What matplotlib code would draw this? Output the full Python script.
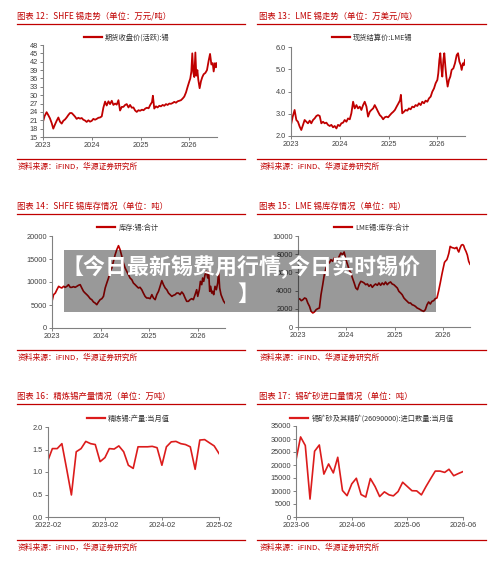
import pandas as pd
import matplotlib
matplotlib.use('Agg')
import matplotlib.pyplot as plt
from matplotlib.lines import Line2D
from matplotlib.patches import Rectangle

plt.rcParams['font.family'] = ['Noto Sans CJK SC', 'DejaVu Sans']

W, H = 500, 563
RED = '#c00000'
RED2 = '#dc1c1c'
GREY = '#808080'

### DATA
# daily prices (sampled), shared dates for SHFE and LME
price_dates = [
    '2023-01-01', '2023-01-13', '2023-01-28', '2023-02-10', '2023-02-22', '2023-03-07', '2023-03-19',
    '2023-04-01', '2023-04-13', '2023-04-26', '2023-05-08', '2023-05-21', '2023-06-02', '2023-06-15',
    '2023-06-27', '2023-07-10', '2023-07-22', '2023-08-04', '2023-08-16', '2023-08-29', '2023-09-10',
    '2023-09-23', '2023-10-05', '2023-10-18', '2023-10-30', '2023-11-12', '2023-11-24', '2023-12-07',
    '2023-12-19',
    '2024-01-01', '2024-01-13', '2024-01-26', '2024-02-07', '2024-02-20', '2024-03-03', '2024-03-16',
    '2024-03-28', '2024-04-10', '2024-04-22', '2024-05-05', '2024-05-17', '2024-05-30', '2024-06-11',
    '2024-06-24', '2024-07-06', '2024-07-19', '2024-07-31', '2024-08-13', '2024-08-25', '2024-09-07',
    '2024-09-19', '2024-10-02', '2024-10-14', '2024-10-27', '2024-11-08', '2024-11-21', '2024-12-03',
    '2024-12-16', '2024-12-28',
    '2025-01-11', '2025-01-23', '2025-02-05', '2025-02-17', '2025-03-02', '2025-03-14', '2025-03-27',
    '2025-04-03', '2025-04-13', '2025-04-26', '2025-05-08', '2025-05-21', '2025-06-02', '2025-06-15',
    '2025-06-27', '2025-07-10', '2025-07-22', '2025-08-04', '2025-08-16', '2025-08-29', '2025-09-10',
    '2025-09-23', '2025-10-05', '2025-10-18', '2025-10-30', '2025-11-12', '2025-11-24', '2025-12-07',
    '2025-12-19',
    '2026-01-01', '2026-01-08', '2026-01-16', '2026-01-23', '2026-01-31', '2026-02-07', '2026-02-15',
    '2026-02-22', '2026-03-02', '2026-03-09', '2026-03-19', '2026-03-29', '2026-04-08', '2026-04-18',
    '2026-05-01', '2026-05-13', '2026-05-26', '2026-06-05', '2026-06-15', '2026-06-25', '2026-07-02',
    '2026-07-12', '2026-07-20', '2026-07-27']

shfe_price = [
    20.5, 22.5, 23.9, 22.8, 21.7, 20.0, 18.0, 19.5, 20.8, 22.0, 20.5, 19.8, 20.8, 21.3, 22.0, 22.9,
    23.6, 23.6, 23.0, 22.3, 21.5, 21.9, 21.6, 21.8, 21.2, 20.9, 20.4, 21.0, 20.5,
    20.8, 21.5, 21.2, 21.5, 21.9, 22.0, 22.4, 25.5, 27.7, 26.3, 27.8, 26.8, 28.0, 26.5, 27.0, 26.6,
    28.2, 24.5, 25.8, 25.8, 26.5, 26.8, 25.6, 26.5, 25.5, 25.6, 24.5, 24.0, 24.6, 24.4,
    24.8, 24.6, 25.2, 25.5, 25.3, 26.5, 27.5, 29.8, 25.2, 26.0, 25.6, 26.2, 26.0, 26.5, 26.2, 26.8,
    26.5, 27.0, 26.9, 27.2, 27.6, 27.3, 27.8, 28.0, 28.2, 28.8, 29.5, 31.0, 33.0,
    35.0, 36.0, 38.5, 45.0, 38.0, 36.5, 45.3, 37.0, 39.0, 35.5, 32.5, 35.0, 36.5, 37.5, 38.0, 39.0,
    42.5, 44.8, 41.0, 41.5, 38.5, 41.5, 40.0, 41.5]

lme_price = [
    2.50, 2.85, 3.17, 2.72, 2.64, 2.42, 2.27, 2.50, 2.72, 2.64, 2.57, 2.69, 2.57, 2.72, 2.79, 2.90,
    2.94, 2.90, 2.57, 2.64, 2.57, 2.60, 2.50, 2.45, 2.50, 2.39, 2.45, 2.34, 2.50,
    2.45, 2.57, 2.60, 2.72, 2.64, 2.79, 2.75, 3.02, 3.54, 3.24, 3.39, 3.24, 3.32, 3.17, 3.39, 3.54,
    3.32, 2.87, 3.09, 3.17, 3.24, 3.39, 3.24, 3.09, 2.94, 2.87, 2.75, 2.84, 2.87, 2.84,
    2.94, 3.02, 3.09, 3.17, 3.32, 3.45, 3.60, 3.85, 3.02, 3.09, 3.17, 3.14, 3.24, 3.20, 3.32, 3.29,
    3.39, 3.35, 3.47, 3.39, 3.54, 3.47, 3.59, 3.54, 3.69, 3.77, 3.99, 4.14, 4.37,
    4.52, 4.82, 5.42, 5.72, 5.04, 4.67, 5.42, 5.72, 5.12, 4.67, 4.22, 4.52, 4.67, 4.97, 5.04, 5.27,
    5.64, 5.72, 5.34, 5.19, 4.97, 5.27, 5.19, 5.42]

# inventories (sampled), shared dates for SHFE and LME
stock_dates = [
    '2023-01-01', '2023-01-13', '2023-01-26', '2023-02-07', '2023-02-20', '2023-03-04', '2023-03-16',
    '2023-03-29', '2023-04-10', '2023-04-23', '2023-05-05', '2023-05-18', '2023-05-30', '2023-06-12',
    '2023-06-24', '2023-07-07', '2023-07-19', '2023-08-01', '2023-08-13', '2023-08-26', '2023-09-07',
    '2023-09-20', '2023-10-02', '2023-10-15', '2023-10-27', '2023-11-09', '2023-11-21', '2023-12-04',
    '2023-12-16', '2023-12-29',
    '2024-01-11', '2024-01-23', '2024-02-05', '2024-02-17', '2024-03-01', '2024-03-13', '2024-03-26',
    '2024-04-07', '2024-04-20', '2024-05-02', '2024-05-15', '2024-05-27', '2024-06-09', '2024-06-21',
    '2024-07-04', '2024-07-16', '2024-07-29', '2024-08-10', '2024-08-23', '2024-09-04', '2024-09-17',
    '2024-09-29', '2024-10-12', '2024-10-24', '2024-11-06', '2024-11-18', '2024-12-01', '2024-12-13',
    '2024-12-26',
    '2025-01-08', '2025-01-21', '2025-02-02', '2025-02-15', '2025-02-27', '2025-03-12', '2025-03-24',
    '2025-04-06', '2025-04-18', '2025-05-01', '2025-05-13', '2025-05-26', '2025-06-07', '2025-06-20',
    '2025-07-02', '2025-07-15', '2025-07-27', '2025-08-09', '2025-08-21', '2025-09-03', '2025-09-15',
    '2025-09-28', '2025-10-10', '2025-10-23', '2025-11-04', '2025-11-17', '2025-11-29', '2025-12-12',
    '2025-12-24',
    '2026-01-01', '2026-01-13', '2026-01-21', '2026-01-31', '2026-02-07', '2026-02-15', '2026-02-25',
    '2026-03-07', '2026-03-17', '2026-03-24', '2026-04-01', '2026-04-08', '2026-04-16', '2026-04-23',
    '2026-05-01', '2026-05-11', '2026-05-21', '2026-05-31', '2026-06-07', '2026-06-15', '2026-06-25',
    '2026-07-05', '2026-07-15', '2026-07-25']

shfe_stock = [
    5800, 7250, 7600, 8330, 9060, 8840, 8700, 9060, 8840, 9060, 9420, 8840, 8840, 8990, 8840, 9060,
    9280, 9420, 8700, 7970, 7600, 7250, 6880, 6380, 6160, 5650, 5430, 5070, 5650, 6160,
    6380, 6880, 8700, 9780, 10870, 12320, 13040, 14490, 15940, 17030, 17900, 17030, 15580, 14130,
    13040, 12320, 11590, 10870, 10510, 9780, 9420, 9060, 8700, 8840, 8330, 7600, 6880, 6520, 6520,
    6380, 7250, 6520, 6160, 7250, 7970, 9060, 10290, 9420, 8700, 8330, 7600, 7250, 6880, 7100, 7250,
    7600, 7600, 7250, 7830, 7390, 6520, 5800, 5800, 6160, 6380, 6160, 7250, 8330,
    6880, 8330, 10140, 9420, 10870, 10140, 11590, 12320, 10870, 12320, 7970, 9060, 7600, 7970, 7250,
    9060, 8330, 9780, 12320, 8700, 7250, 6520, 5800, 5430]

lme_stock = [
    3000, 3110, 2890, 3000, 3190, 3110, 2640, 2270, 1720, 1540, 1650, 1900, 2010, 2090, 3550, 4650,
    5750, 6480, 7220, 7030, 7400, 7220, 7580, 7580, 7400, 7770, 8130, 7950, 8240, 7400,
    6850, 6300, 5930, 5380, 4840, 4290, 4100, 4650, 5020, 4950, 4840, 4650, 4730, 4470, 4650, 4360,
    4580, 4730, 4580, 4840, 4580, 4840, 4650, 4950, 4650, 4840, 4950, 4730, 4650,
    4470, 4290, 3920, 3740, 3550, 3190, 3000, 2820, 2640, 2640, 2450, 2380, 2270, 2090, 2010, 1900,
    1790, 1720, 1900, 2450, 2750, 2530, 2820, 2890, 3110, 3190, 3920, 4840, 5750,
    6300, 7100, 7250, 7400, 7700, 8100, 8860, 8750, 8700, 8680, 8620, 8700, 8750, 8450, 8240, 8680,
    9000, 9050, 8950, 8600, 8300, 7900, 7220, 6900]

# monthly refined tin output, 2022-02 .. 2025-02 (万吨)
output_months = pd.date_range('2022-02-01', '2025-02-01', freq='MS')
refined_output = [
    1.26, 1.52, 1.52, 1.63, 1.06, 0.49, 1.45, 1.52, 1.68, 1.63, 1.61,
    1.23, 1.32, 1.52, 1.51, 1.58, 1.45, 1.15, 1.08, 1.56, 1.56, 1.56, 1.57,
    1.54, 1.15, 1.56, 1.67, 1.68, 1.63, 1.61, 1.56, 1.06, 1.71, 1.72, 1.65,
    1.58, 1.41]

# monthly tin ore imports, 2023-06 .. 2026-06 (吨)
import_months = pd.date_range('2023-06-01', '2026-06-01', freq='MS')
ore_imports = [
    21950, 30800, 27500, 6900, 25300, 27700, 16500, 20400, 16950, 22970, 10180, 8200,
    12740, 14900, 8640, 7680, 14800, 11710, 7870, 9660, 8510, 8130, 9790, 13370,
    11710, 10110, 10050, 8510, 11710, 14780, 17660, 17660, 17150, 18360, 15870, 16700,
    17470]

titles = ['图表 12：SHFE 锡走势（单位：万元/吨）', '图表 13：LME 锡走势（单位：万美元/吨）',
          '图表 14：SHFE 锡库存情况（单位：吨）', '图表 15：LME 锡库存情况（单位：吨）',
          '图表 16：精炼锡产量情况（单位：万吨）', '图表 17：锡矿砂进口量情况（单位：吨）']
legends = ['期货收盘价(活跃):锡', '现货结算价:LME锡', '库存:锡:合计', 'LME锡:库存:合计',
           '精炼锡:产量:当月值', '锡矿砂及其精矿(26090000):进口数量:当月值']
sources = ['资料来源：iFIND，华源证券研究所', '资料来源：iFIND、华源证券研究所']
year_ticks = ['2023-01-01', '2024-01-01', '2025-01-01', '2026-01-01']
year_labels = ['2023', '2024', '2025', '2026']
out_ticks = ['2022-02-01', '2023-02-01', '2024-02-01', '2025-02-01']
out_labels = ['2022-02', '2023-02', '2024-02', '2025-02']
imp_ticks = ['2023-06-01', '2024-06-01', '2025-06-01', '2026-06-01']
imp_labels = ['2023-06', '2024-06', '2025-06', '2026-06']


def fx(x):
    return x / W


def fy(y):
    return 1 - y / H


def add_panel(x0, x1, y0, y1):
    return fig.add_axes([fx(x0), fy(y1), (x1 - x0) / W, (y1 - y0) / H])


def style(ax, yticks, ylabels, xticks, xlabels, leg_xy):
    ax.set_yticks(yticks)
    ax.set_yticklabels(ylabels)
    ax.set_ylim(yticks[0], yticks[-1])
    ax.set_xticks(pd.to_datetime(xticks))
    ax.set_xticklabels(xlabels)
    for s in ['top', 'right']:
        ax.spines[s].set_visible(False)
    for s in ['left', 'bottom']:
        ax.spines[s].set_color(GREY)
        ax.spines[s].set_linewidth(0.8)
    ax.tick_params(length=2.2, width=0.7, color=GREY, labelsize=5.3,
                   labelcolor='#404040', pad=1.5)
    for lbl in ax.get_xticklabels() + ax.get_yticklabels():
        lbl.set_fontfamily(['Liberation Sans', 'DejaVu Sans'])
    ax.set_facecolor('none')
    leg = ax.legend(loc='center', bbox_to_anchor=(fx(leg_xy[0]), fy(leg_xy[1])),
                    bbox_transform=fig.transFigure, frameon=False, fontsize=5.2,
                    handlelength=2.5, handletextpad=0.4, borderpad=0, borderaxespad=0)
    for t in leg.get_texts():
        t.set_color('#333333')
    for h in leg.get_lines():
        h.set_linewidth(1.6)


fig = plt.figure(figsize=(W / 100, H / 100), dpi=100)

pd_price = pd.to_datetime(price_dates)
pd_stock = pd.to_datetime(stock_dates)

### Panel 12: SHFE price
ax = add_panel(43, 217, 45, 137)
ax.plot(pd_price, shfe_price, color=RED, lw=1.3, label=legends[0])
ax.set_xlim(pd_price[0], pd_price[-1])
style(ax, list(range(15, 49, 3)), [str(v) for v in range(15, 49, 3)],
      year_ticks, year_labels, (127, 38))

### Panel 13: LME price
ax = add_panel(291, 465, 47, 136)
ax.plot(pd_price, lme_price, color=RED, lw=1.3, label=legends[1])
ax.set_xlim(pd_price[0], pd_price[-1])
style(ax, [2, 3, 4, 5, 6], ['2.0', '3.0', '4.0', '5.0', '6.0'],
      year_ticks, year_labels, (372, 38))

### Panel 14: SHFE stock
ax = add_panel(52, 225, 236, 328)
ax.plot(pd_stock, shfe_stock, color=RED, lw=1.2, label=legends[2])
ax.set_xlim(pd_stock[0], pd_stock[-1])
style(ax, [0, 5000, 10000, 15000, 20000], ['0', '5000', '10000', '15000', '20000'],
      year_ticks, year_labels, (128, 228))

### Panel 15: LME stock
ax = add_panel(298, 470, 236, 327)
ax.plot(pd_stock, lme_stock, color=RED, lw=1.2, label=legends[3])
ax.set_xlim(pd_stock[0], pd_stock[-1])
style(ax, [0, 2000, 4000, 6000, 8000, 10000], ['0', '2000', '4000', '6000', '8000', '10000'],
      year_ticks, year_labels, (372, 228))

### Panel 16: refined tin output
ax = add_panel(48, 219, 427, 517)
ax.plot(output_months, refined_output, color=RED2, lw=1.2, label=legends[4])
ax.set_xlim(output_months[0], output_months[-1])
style(ax, [0, 0.5, 1.0, 1.5, 2.0], ['0.0', '0.5', '1.0', '1.5', '2.0'],
      out_ticks, out_labels, (128, 419))

### Panel 17: ore imports
ax = add_panel(296, 463, 426, 517)
ax.plot(import_months, ore_imports, color=RED2, lw=1.2, label=legends[5])
ax.set_xlim(import_months[0], import_months[-1])
yt = [0, 5000, 10000, 15000, 20000, 25000, 30000, 35000]
style(ax, yt, [str(v) for v in yt], imp_ticks, imp_labels, (372, 419))

### titles, rules, sources
rows = [(16, 23.5, 159, 167), (206, 213.5, 350, 358), (396, 403.5, 540, 548)]
for i, (ty, ry, fy_, sy) in enumerate(rows):
    for j, (tx, rx0, rx1) in enumerate([(17, 17, 245), (259, 257, 486)]):
        fig.text(fx(tx), fy(ty), titles[2 * i + j], fontsize=6, color=RED,
                 ha='left', va='center')
        fig.add_artist(Line2D([fx(rx0), fx(rx1)], [fy(ry), fy(ry)], color=RED, lw=0.9))
        fig.add_artist(Line2D([fx(rx0), fx(rx1)], [fy(fy_), fy(fy_)], color=RED, lw=0.9))
        fig.text(fx(tx + 1), fy(sy), sources[j], fontsize=5.6, color=RED,
                 ha='left', va='center')

### banner on top
fig.add_artist(Rectangle((fx(64), fy(312)), (436 - 64) / W, (312 - 250) / H,
                         transform=fig.transFigure, facecolor='black', alpha=0.4,
                         edgecolor='none', zorder=10))
fig.text(fx(241), fy(267), '【今日最新锡费用行情,今日实时锡价', fontsize=15.8, color='white',
         fontweight='bold', ha='center', va='center', zorder=11)
fig.text(fx(248), fy(294), '】', fontsize=15.8, color='white',
         fontweight='bold', ha='center', va='center', zorder=11)

fig.savefig('out.png', dpi=100)
